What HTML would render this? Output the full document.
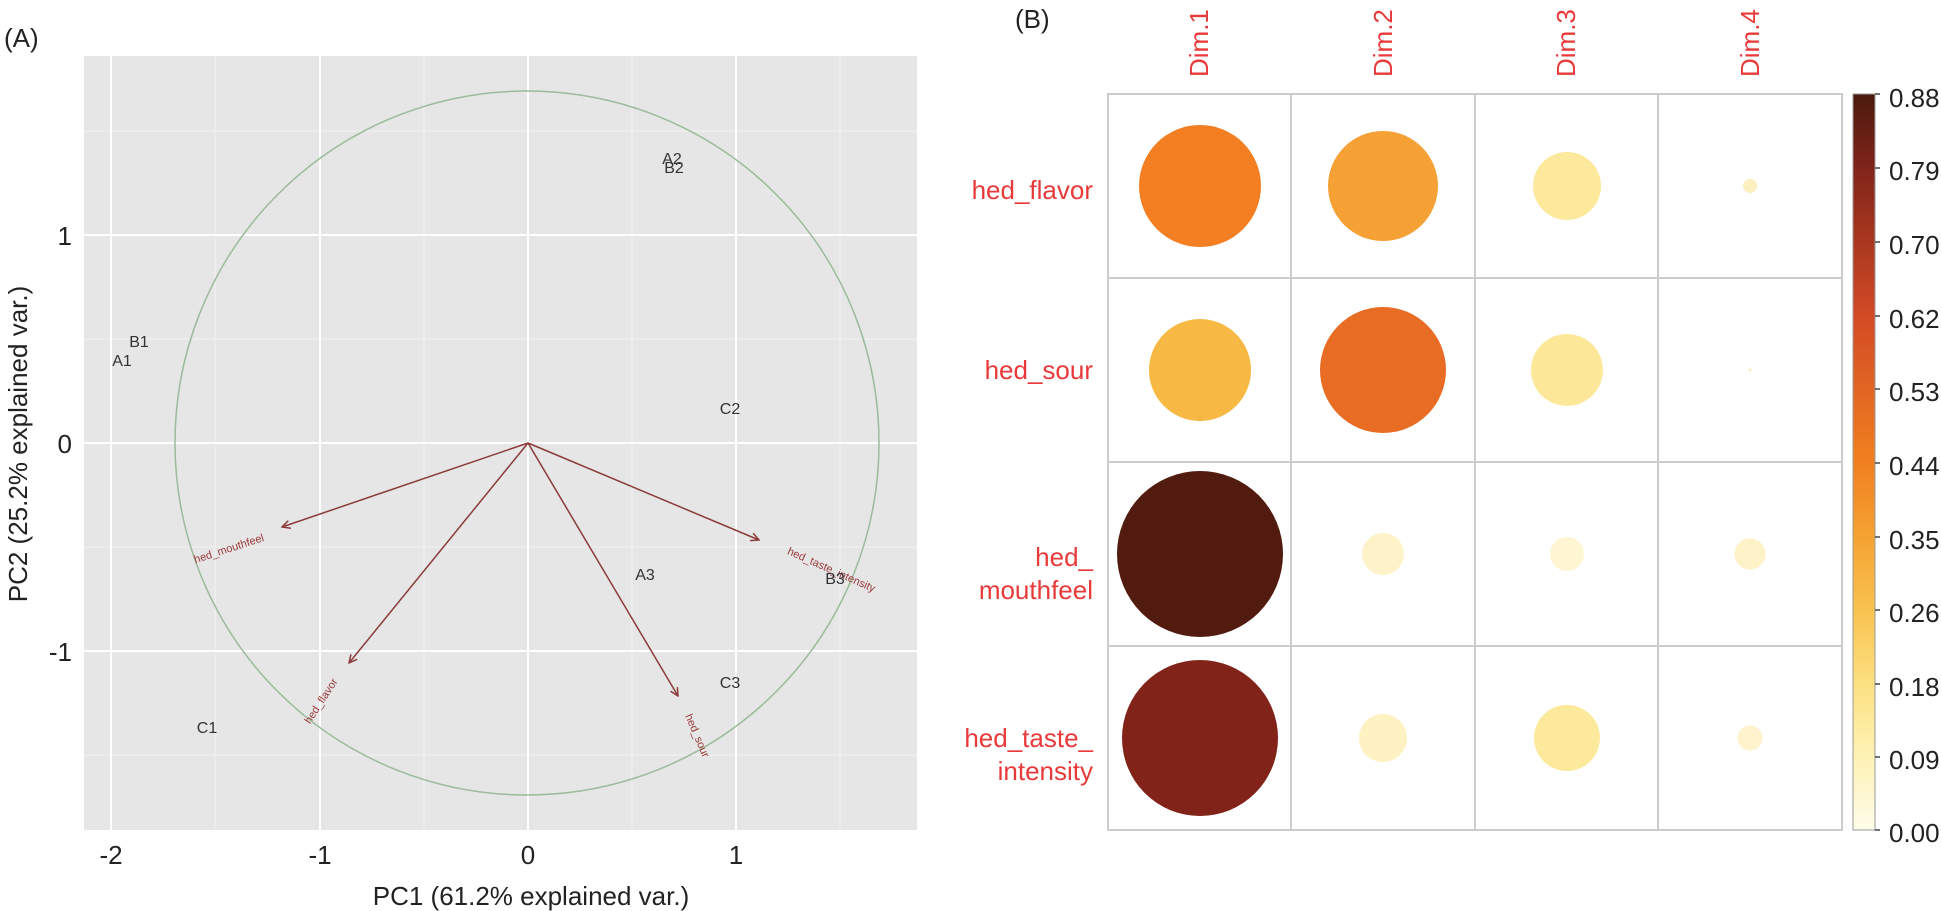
<!DOCTYPE html>
<html><head><meta charset="utf-8"><style>html,body{margin:0;padding:0;background:#fff;overflow:hidden}svg{display:block}</style></head>
<body>
<svg width="1941" height="911" viewBox="0 0 1941 911" xmlns="http://www.w3.org/2000/svg" font-family="Liberation Sans, Arial, sans-serif">
<defs>
<linearGradient id="cb" x1="0" y1="0" x2="0" y2="1">
<stop offset="0" stop-color="#4a1a0c"/>
<stop offset="0.1" stop-color="#80241a"/>
<stop offset="0.3" stop-color="#d24a25"/>
<stop offset="0.5" stop-color="#f08020"/>
<stop offset="0.6" stop-color="#f5a232"/>
<stop offset="0.7" stop-color="#f8c250"/>
<stop offset="0.8" stop-color="#fce080"/>
<stop offset="0.9" stop-color="#fef2b4"/>
<stop offset="1" stop-color="#fffceb"/>
</linearGradient>
<marker id="ah" markerWidth="10" markerHeight="10" refX="9" refY="5" orient="auto" markerUnits="userSpaceOnUse">
<path d="M1,1 L9,5 L1,9" fill="none" stroke="#8b3a3a" stroke-width="1.5"/>
</marker>
</defs>
<text x="4" y="47" font-size="26" fill="#222">(A)</text>
<rect x="84" y="56" width="833" height="774" fill="#e6e6e6"/>
<g stroke="#f2f2f2" stroke-width="1">
<line x1="215" y1="56" x2="215" y2="830"/><line x1="424" y1="56" x2="424" y2="830"/><line x1="632" y1="56" x2="632" y2="830"/><line x1="840" y1="56" x2="840" y2="830"/>
<line x1="84" y1="131" x2="917" y2="131"/><line x1="84" y1="339" x2="917" y2="339"/><line x1="84" y1="547" x2="917" y2="547"/><line x1="84" y1="755" x2="917" y2="755"/>
</g>
<g stroke="#ffffff" stroke-width="2">
<line x1="111" y1="56" x2="111" y2="830"/><line x1="320" y1="56" x2="320" y2="830"/><line x1="528" y1="56" x2="528" y2="830"/><line x1="736" y1="56" x2="736" y2="830"/>
<line x1="84" y1="235" x2="917" y2="235"/><line x1="84" y1="443" x2="917" y2="443"/><line x1="84" y1="651" x2="917" y2="651"/>
</g>
<circle cx="527" cy="443" r="352" fill="none" stroke="#9cba9c" stroke-width="1.5"/>
<g stroke="#8b3a3a" stroke-width="1.5" marker-end="url(#ah)">
<line x1="528" y1="443" x2="282" y2="527"/>
<line x1="528" y1="443" x2="349" y2="663"/>
<line x1="528" y1="443" x2="678" y2="696"/>
<line x1="528" y1="443" x2="759" y2="540"/>
</g>
<g fill="#9b3a3a" font-size="11" text-anchor="middle">
<text transform="translate(230,552) rotate(-18)">hed_mouthfeel</text>
<text transform="translate(324,703) rotate(-57)">hed_flavor</text>
<text transform="translate(694,737) rotate(67)">hed_sour</text>
<text transform="translate(830,573) rotate(24)">hed_taste_intensity</text>
</g>
<g fill="#333" font-size="16" text-anchor="middle">
<text x="672" y="164">A2</text><text x="674" y="173">B2</text>
<text x="139" y="347">B1</text><text x="122" y="366">A1</text>
<text x="730" y="414">C2</text><text x="645" y="580">A3</text>
<text x="835" y="584">B3</text><text x="730" y="688">C3</text>
<text x="207" y="733">C1</text>
</g>
<g fill="#222" font-size="26" text-anchor="end">
<text x="72" y="245">1</text><text x="72" y="453">0</text><text x="72" y="661">-1</text>
</g>
<g fill="#222" font-size="26" text-anchor="middle">
<text x="111" y="864">-2</text><text x="320" y="864">-1</text><text x="528" y="864">0</text><text x="736" y="864">1</text>
<text x="531" y="905">PC1 (61.2% explained var.)</text>
<text transform="translate(27,444) rotate(-90)">PC2 (25.2% explained var.)</text>
</g>
<text x="1015" y="28" font-size="26" fill="#222">(B)</text>
<g fill="#e83a3a" font-size="26">
<text transform="translate(1208,77) rotate(-90)">Dim.1</text>
<text transform="translate(1392,77) rotate(-90)">Dim.2</text>
<text transform="translate(1575,77) rotate(-90)">Dim.3</text>
<text transform="translate(1759,77) rotate(-90)">Dim.4</text>
</g>
<g fill="#e83a3a" font-size="26" text-anchor="end">
<text x="1093" y="199">hed_flavor</text>
<text x="1093" y="379">hed_sour</text>
<text x="1093" y="566">hed_</text><text x="1093" y="599">mouthfeel</text>
<text x="1093" y="747">hed_taste_</text><text x="1093" y="780">intensity</text>
</g>
<rect x="1108" y="94" width="734" height="736" fill="#fff" stroke="#cccccc" stroke-width="2"/>
<g stroke="#cccccc" stroke-width="2">
<line x1="1291" y1="94" x2="1291" y2="830"/><line x1="1475" y1="94" x2="1475" y2="830"/><line x1="1658" y1="94" x2="1658" y2="830"/>
<line x1="1108" y1="278" x2="1842" y2="278"/><line x1="1108" y1="462" x2="1842" y2="462"/><line x1="1108" y1="646" x2="1842" y2="646"/>
</g>
<circle cx="1200" cy="186" r="61" fill="#f37f22"/>
<circle cx="1383" cy="186" r="55" fill="#f6a135"/>
<circle cx="1567" cy="186" r="34" fill="#fde99b"/>
<circle cx="1750" cy="186" r="7" fill="#fdf0c0"/>
<circle cx="1200" cy="370" r="51" fill="#f7b844"/>
<circle cx="1383" cy="370" r="63" fill="#e96c25"/>
<circle cx="1567" cy="370" r="36" fill="#fde89a"/>
<circle cx="1750" cy="370" r="1.5" fill="#fdf0c0"/>
<circle cx="1200" cy="554" r="83" fill="#511b0f"/>
<circle cx="1383" cy="554" r="21" fill="#fef3c8"/>
<circle cx="1567" cy="554" r="17" fill="#fef5d2"/>
<circle cx="1750" cy="554" r="15.5" fill="#fef3c8"/>
<circle cx="1200" cy="738" r="78" fill="#82231a"/>
<circle cx="1383" cy="738" r="24" fill="#fef1c2"/>
<circle cx="1567" cy="738" r="33" fill="#fde99b"/>
<circle cx="1750" cy="738" r="12.5" fill="#fef3cc"/>
<rect x="1853" y="94" width="22" height="736" fill="url(#cb)" stroke="#999" stroke-width="1"/>
<g stroke="#444" stroke-width="1.5">
<line x1="1875" y1="94" x2="1880" y2="94"/><line x1="1875" y1="168" x2="1880" y2="168"/><line x1="1875" y1="242" x2="1880" y2="242"/><line x1="1875" y1="316" x2="1880" y2="316"/><line x1="1875" y1="389" x2="1880" y2="389"/><line x1="1875" y1="463" x2="1880" y2="463"/><line x1="1875" y1="537" x2="1880" y2="537"/><line x1="1875" y1="610" x2="1880" y2="610"/><line x1="1875" y1="684" x2="1880" y2="684"/><line x1="1875" y1="757" x2="1880" y2="757"/><line x1="1875" y1="830" x2="1880" y2="830"/>
</g>
<g fill="#222" font-size="26">
<text x="1889" y="107">0.88</text><text x="1889" y="180">0.79</text><text x="1889" y="254">0.70</text><text x="1889" y="328">0.62</text><text x="1889" y="401">0.53</text><text x="1889" y="475">0.44</text><text x="1889" y="549">0.35</text><text x="1889" y="622">0.26</text><text x="1889" y="696">0.18</text><text x="1889" y="769">0.09</text><text x="1889" y="842">0.00</text>
</g>
</svg>
</body></html>
